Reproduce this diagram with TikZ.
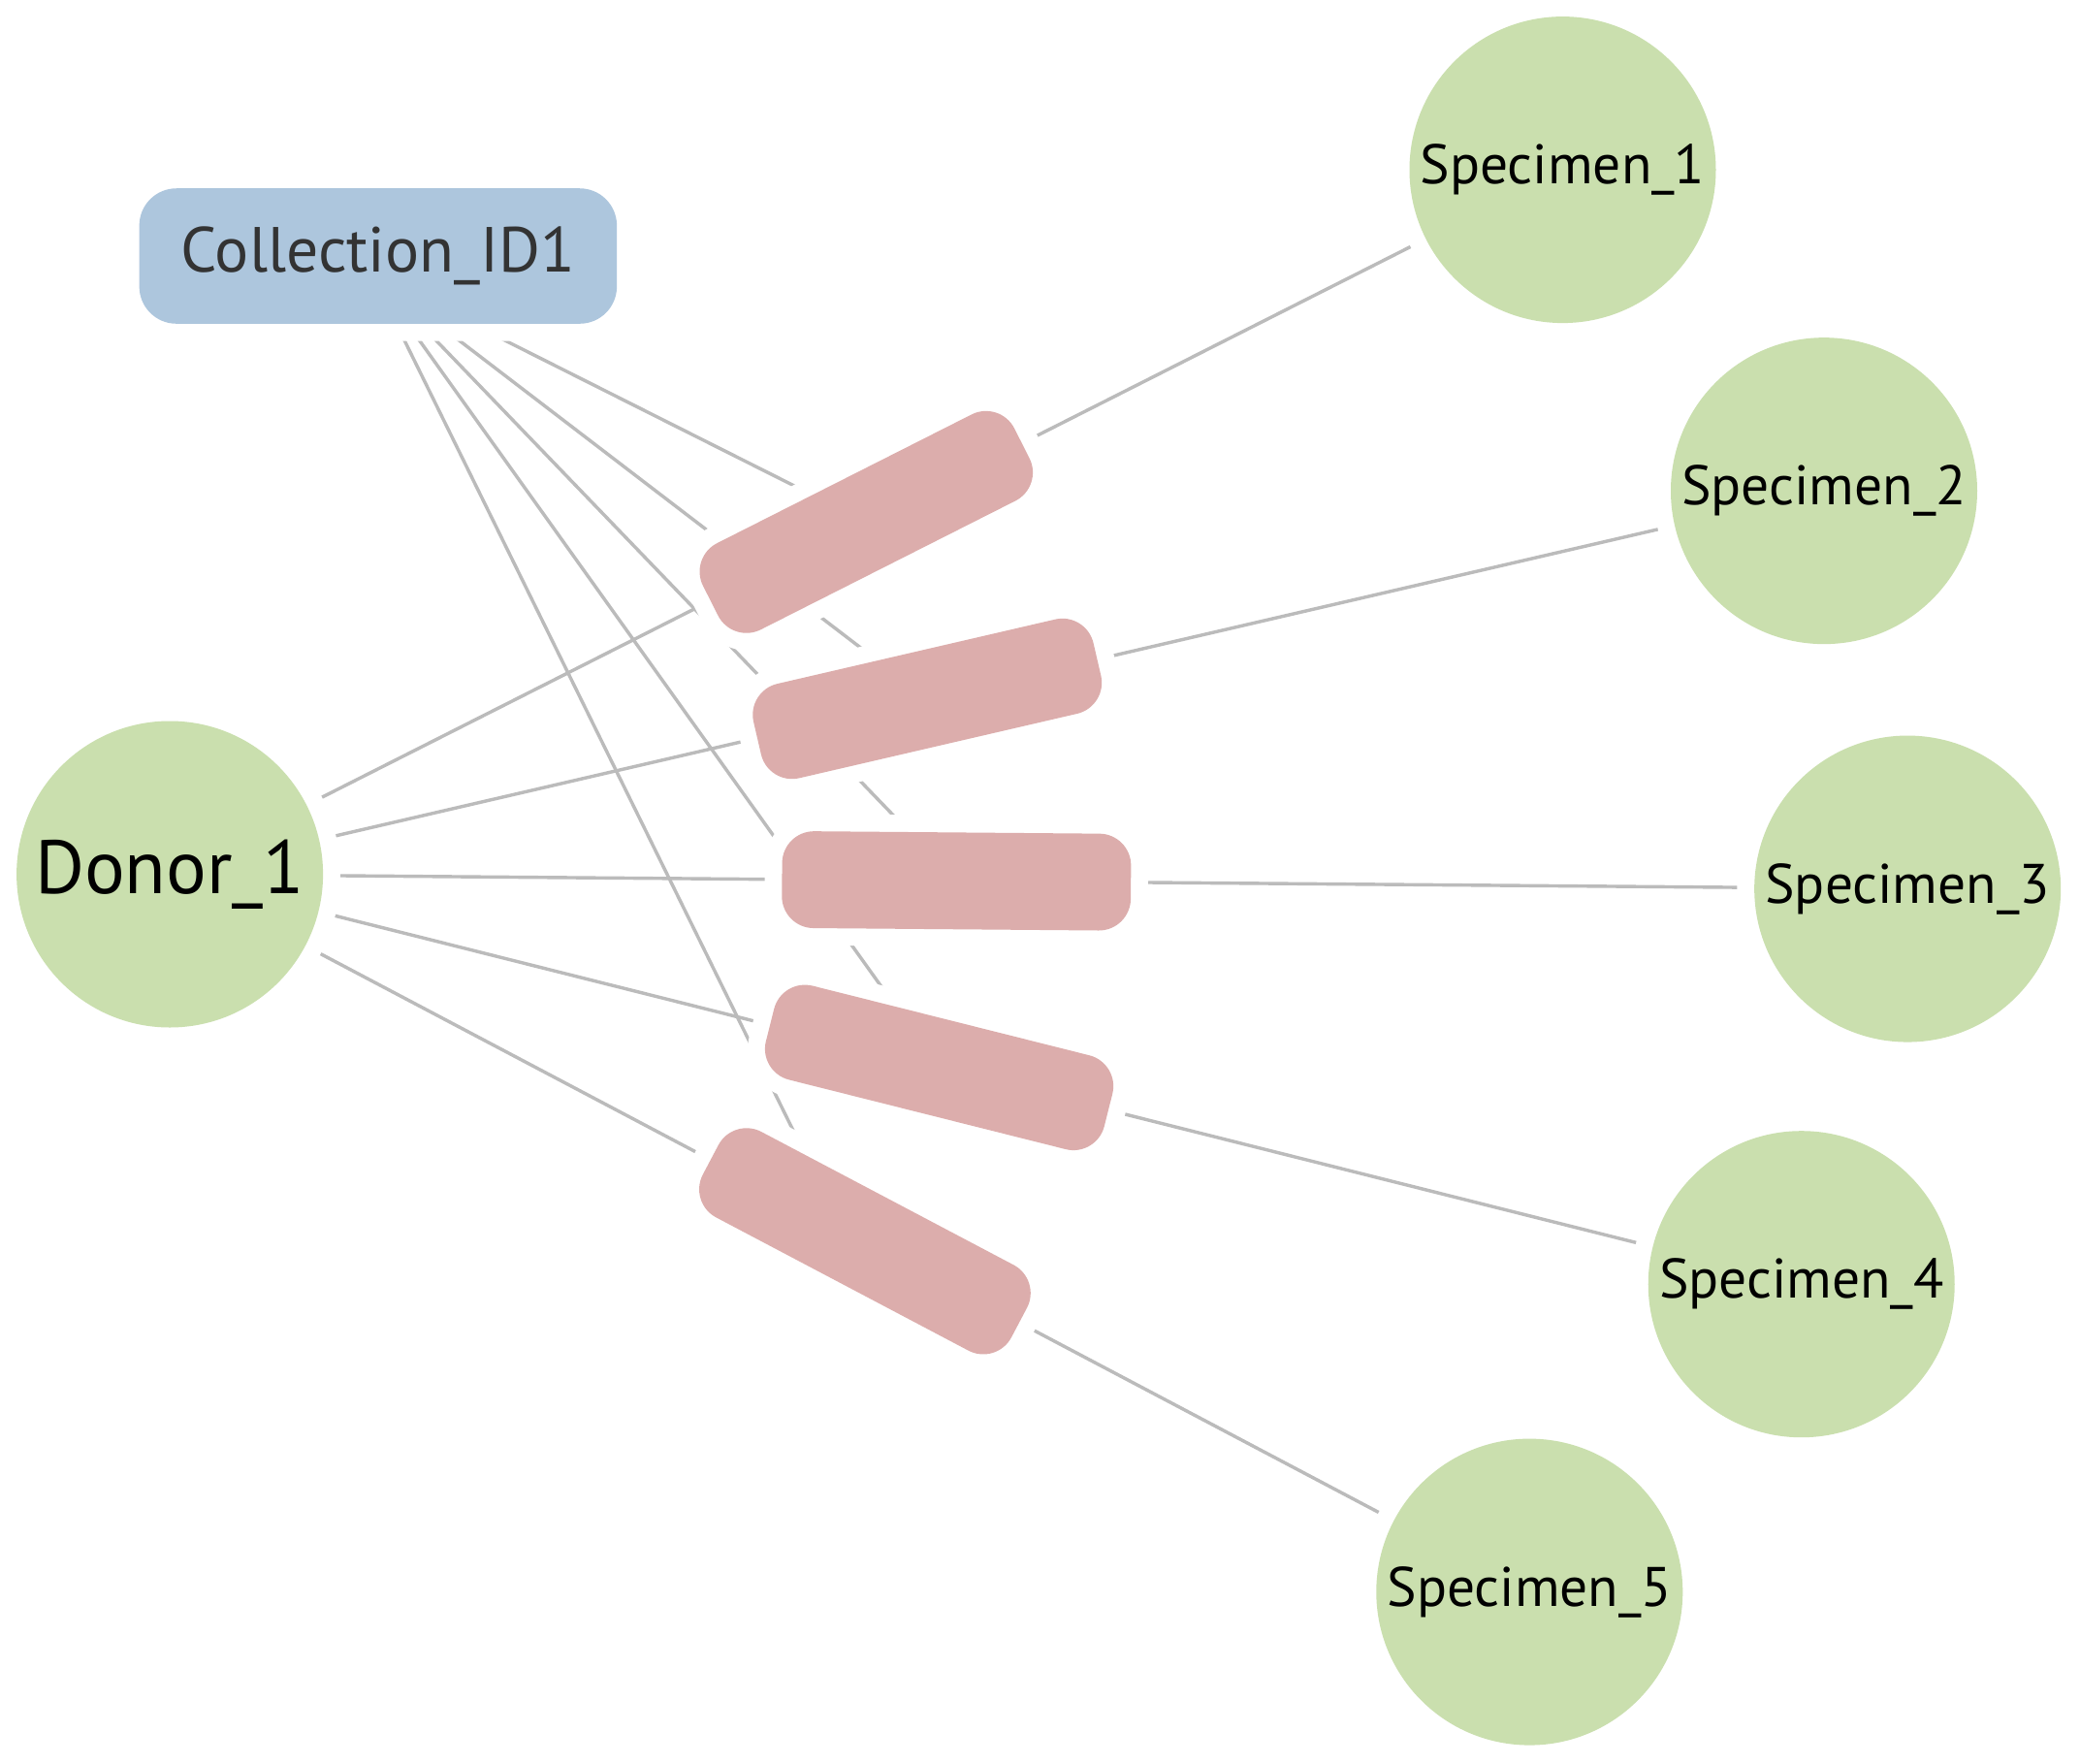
\documentclass[tikz,border=0pt]{standalone}
\usepackage{fontspec}
\setmainfont{PT Sans}
\usetikzlibrary{backgrounds}
\definecolor{linkgray}{HTML}{BBBBBB}
\definecolor{nodegreen}{HTML}{CADFAE}
\definecolor{barpink}{HTML}{DCADAC}
\definecolor{collblue}{HTML}{ADC6DD}
\definecolor{colltext}{HTML}{333333}
\begin{document}
\begin{tikzpicture}[x=1pt,y=-1pt,
  halo/.style={preaction={draw=white,line width=26pt}},
  circ/.style={circle,fill=nodegreen,minimum size=231pt,inner sep=0pt,halo,
    font=\fontsize{42}{50}\selectfont},
  bigcirc/.style={circ,font=\fontsize{57}{66}\selectfont},
  relbar/.style={rectangle,rounded corners=24pt,fill=barpink,minimum width=263pt,
    minimum height=73pt,inner sep=0pt,halo},
  collbox/.style={rectangle,rounded corners=28pt,fill=collblue,minimum width=360pt,
    minimum height=102pt,inner sep=0pt,halo,text=colltext,
    font=\fontsize{48}{56}\selectfont},
  link/.style={draw=linkgray,line width=2.5pt}]
\useasboundingbox (0,0) rectangle (1568,1329);

\node[collbox] (coll) at (285,193) {Collection\_ID1};
\coordinate (hub) at (280,206);
\node[bigcirc] (donor) at (128,659) {Donor\_1};

\node[circ] (s1) at (1178,128) {Specimen\_1};
\node[circ] (s2) at (1375,370) {Specimen\_2};
\node[circ] (s3) at (1438,670) {Specimen\_3};
\node[circ] (s4) at (1358,968) {Specimen\_4};
\node[circ] (s5) at (1153,1200) {Specimen\_5};

\node[relbar,rotate=26.82] (b1) at (653,393.5) {};
\node[relbar,rotate=13.05] (b2) at (699,526.7) {};
\node[relbar,rotate=-0.48] (b3) at (721,664) {};
\node[relbar,rotate=-14.10] (b4) at (708,804.7) {};
\node[relbar,rotate=-27.82] (b5) at (652,935.6) {};

\begin{pgfonlayer}{background}
\fill[white] (0,0) rectangle (1568,1329);
\foreach \i in {1,...,5} {
  \draw[link] (donor.center) -- (b\i.center);
  \draw[link] (b\i.center) -- (s\i.center);
}
\foreach \i in {1,...,4} {
  \draw[link] (hub) -- (b\i.center);
}
\draw[link] (hub) -- ([xshift=-13pt]b5.center);
\end{pgfonlayer}
\end{tikzpicture}
\end{document}
